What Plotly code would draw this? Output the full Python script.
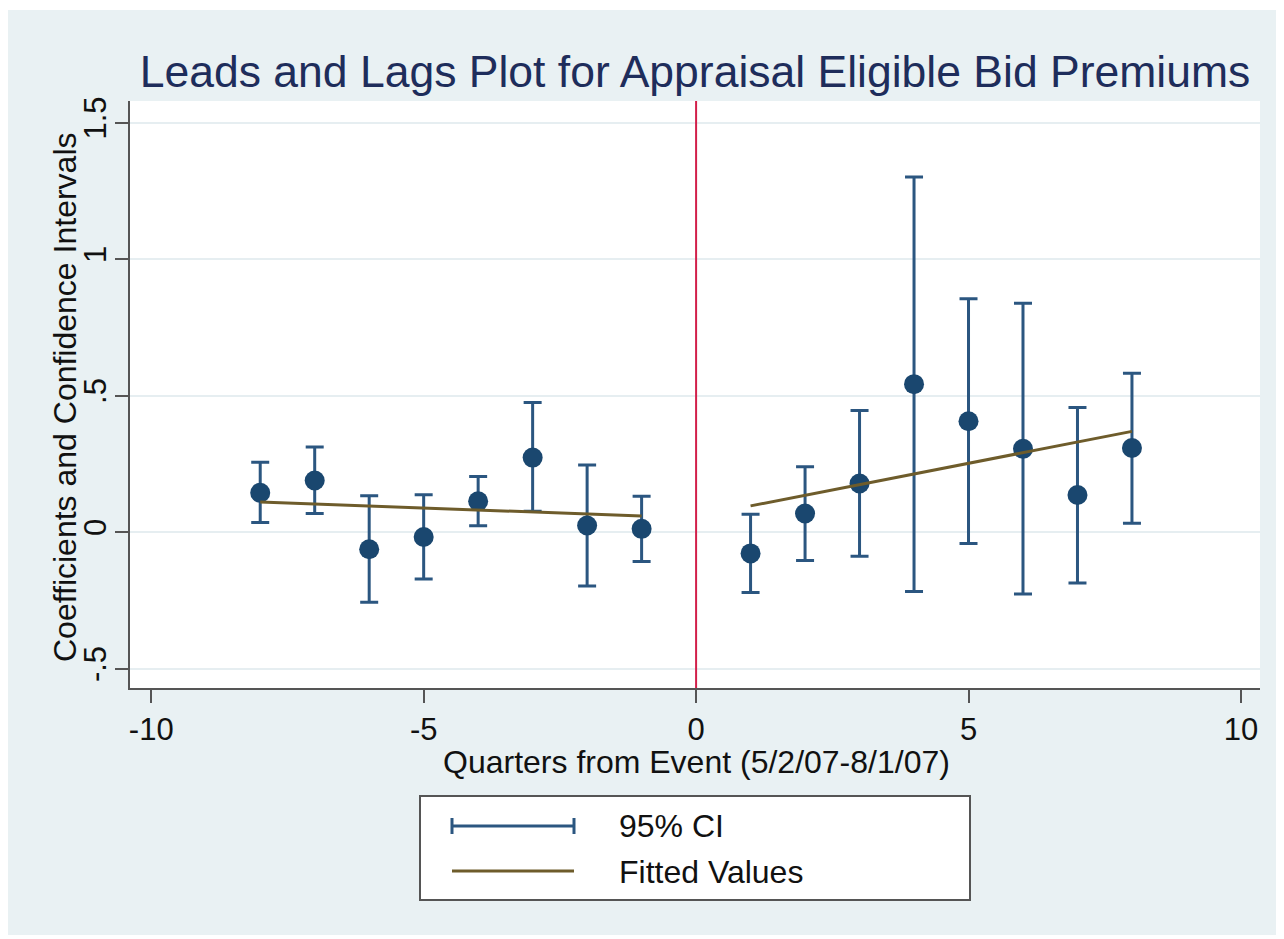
import plotly.graph_objects as go

# ---- data ----
quarters = [-8, -7, -6, -5, -4, -3, -2, -1, 1, 2, 3, 4, 5, 6, 7, 8]
coef = [0.144, 0.189, -0.063, -0.018, 0.113, 0.273, 0.024, 0.012,
        -0.078, 0.068, 0.178, 0.542, 0.406, 0.305, 0.136, 0.308]
ci_hi = [0.256, 0.312, 0.133, 0.137, 0.204, 0.475, 0.246, 0.131,
         0.065, 0.239, 0.445, 1.301, 0.855, 0.838, 0.456, 0.582]
ci_lo = [0.035, 0.068, -0.257, -0.172, 0.023, 0.076, -0.197, -0.108,
         -0.221, -0.104, -0.088, -0.218, -0.042, -0.227, -0.186, 0.032]

fit_pre_x = [-8, -1]
fit_pre_y = [0.110, 0.059]
fit_post_x = [1, 8]
fit_post_y = [0.096, 0.369]

event_x = 0

x_ticks = [-10, -5, 0, 5, 10]
x_ticklabels = ["-10", "-5", "0", "5", "10"]
y_ticks = [-0.5, 0, 0.5, 1, 1.5]
y_ticklabels = ["-.5", "0", ".5", "1", "1.5"]

legend_labels = ["95% CI", "Fitted Values"]

title_text = "Leads and Lags Plot for Appraisal Eligible Bid Premiums"
x_title = "Quarters from Event (5/2/07-8/1/07)"
y_title = "Coefficients and Confidence Intervals"

# ---- styling ----
FONT = "Liberation Sans, Arial, sans-serif"
NAVY = "#1a476f"
CI_COLOR = "#2b5680"
FIT_COLOR = "#6e5c2b"
RED = "#d21f4a"
BG = "#e9f1f3"
AXIS = "#555555"
TXT = "#111111"

OFF = 8  # page body margin
W, H = 1284 - OFF, 939 - OFF
# plot region in page pixels: x 130..1260, y 101..688
PX0, PX1, PY0, PY1 = 130, 1260, 101, 688
L, R, T, B = PX0 - OFF, W - (PX1 - OFF), PY0 - OFF, H - (PY1 - OFF)
PW, PH = PX1 - PX0, PY1 - PY0


def px(xp):
    return (xp - PX0) / PW


def py(yp):
    return (PY1 - yp) / PH


err_plus = [h - c for h, c in zip(ci_hi, coef)]
err_minus = [c - l for c, l in zip(coef, ci_lo)]

fig = go.Figure()

fig.add_trace(go.Scatter(
    x=quarters, y=coef, mode="markers",
    marker=dict(size=20, color=NAVY),
    error_y=dict(type="data", array=err_plus, arrayminus=err_minus,
                 color=CI_COLOR, thickness=3, width=9),
    showlegend=False, name="Coefficient"))

for fx, fy in [(fit_pre_x, fit_pre_y), (fit_post_x, fit_post_y)]:
    fig.add_trace(go.Scatter(x=fx, y=fy, mode="lines",
                             line=dict(color=FIT_COLOR, width=3),
                             showlegend=False, name="Fitted Values"))

shapes = [
    dict(type="rect", xref="paper", yref="paper",
         x0=px(8), x1=px(1276), y0=py(935), y1=py(10),
         fillcolor=BG, line=dict(width=0), layer="below"),
    dict(type="rect", xref="paper", yref="paper",
         x0=0, x1=1, y0=0, y1=1,
         fillcolor="white", line=dict(width=0), layer="below"),
    dict(type="line", xref="x", yref="paper", x0=event_x, x1=event_x,
         y0=0, y1=1, line=dict(color=RED, width=2)),
    dict(type="rect", xref="paper", yref="paper",
         x0=px(420), x1=px(970), y0=py(900), y1=py(796),
         fillcolor="white", line=dict(color=AXIS, width=2)),
    dict(type="line", xref="paper", yref="paper",
         x0=px(452), x1=px(574), y0=py(826), y1=py(826),
         line=dict(color=CI_COLOR, width=3)),
    dict(type="line", xref="paper", yref="paper",
         x0=px(452), x1=px(452), y0=py(818), y1=py(834),
         line=dict(color=CI_COLOR, width=3)),
    dict(type="line", xref="paper", yref="paper",
         x0=px(574), x1=px(574), y0=py(818), y1=py(834),
         line=dict(color=CI_COLOR, width=3)),
    dict(type="line", xref="paper", yref="paper",
         x0=px(452), x1=px(574), y0=py(871), y1=py(871),
         line=dict(color=FIT_COLOR, width=3)),
]

annotations = [
    dict(text=legend_labels[0], xref="paper", yref="paper",
         x=px(617), y=py(826), xanchor="left", yanchor="middle",
         showarrow=False, font=dict(family=FONT, size=32, color=TXT)),
    dict(text=legend_labels[1], xref="paper", yref="paper",
         x=px(617), y=py(872), xanchor="left", yanchor="middle",
         showarrow=False, font=dict(family=FONT, size=32, color=TXT)),
    dict(text=x_title, xref="paper", yref="paper",
         x=px(696), y=py(762), xanchor="center", yanchor="middle",
         showarrow=False, font=dict(family=FONT, size=32, color=TXT)),
    dict(text=y_title, xref="paper", yref="paper", textangle=-90,
         x=px(65), y=py(397), xanchor="center", yanchor="middle",
         showarrow=False, font=dict(family=FONT, size=32, color=TXT)),
]

fig.update_layout(
    width=W, height=H, autosize=False,
    margin=dict(l=L, r=R, t=T, b=B, pad=0),
    paper_bgcolor="white", plot_bgcolor="white",
    font=dict(family=FONT, color=TXT),
    title=dict(text=title_text, x=0.5, xref="paper", xanchor="center",
               y=1 - (71 - OFF) / H, yref="container", yanchor="middle",
               font=dict(family=FONT, size=44.5, color="#1e2d5b")),
    shapes=shapes, annotations=annotations, showlegend=False,
)

fig.update_xaxes(
    range=[-10.39, 10.35], tickvals=x_ticks, ticktext=x_ticklabels,
    ticks="outside", ticklen=13,
    tickwidth=2, tickcolor=AXIS, showline=True, linecolor=AXIS, linewidth=2,
    showgrid=False, zeroline=False,
    tickfont=dict(family=FONT, size=31, color=TXT),
)
fig.update_yaxes(
    range=[-0.571, 1.579], tickvals=y_ticks, ticktext=y_ticklabels, tickangle=-90,
    ticks="outside", ticklen=13, tickwidth=2, tickcolor=AXIS,
    showline=True, linecolor=AXIS, linewidth=2, ticklabelstandoff=-3,
    showgrid=True, gridcolor="#e6eef1", gridwidth=2, zeroline=False,
    tickfont=dict(family=FONT, size=31, color=TXT),
)

fig.write_html("out.html")
